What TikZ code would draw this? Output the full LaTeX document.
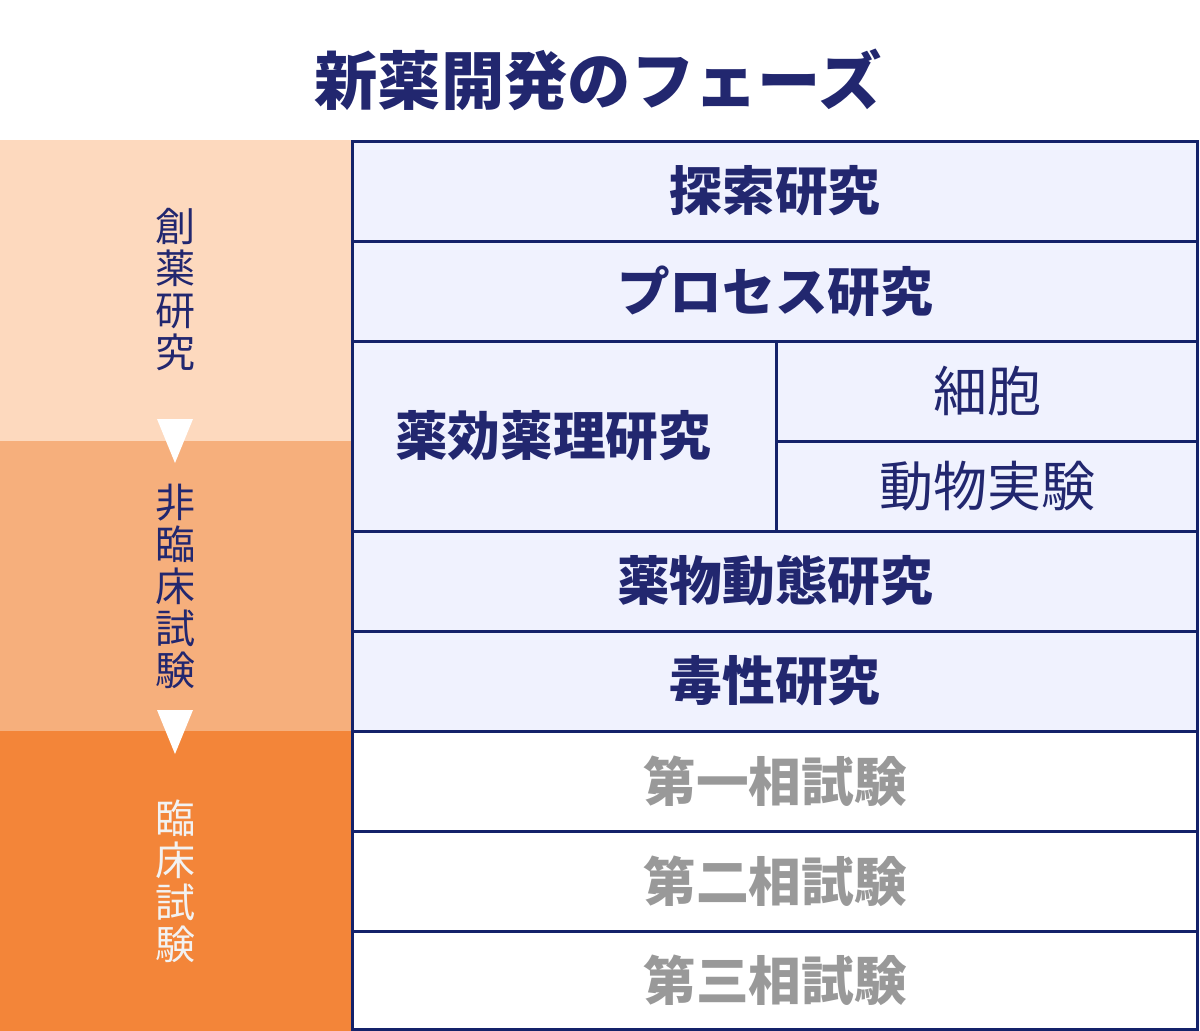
\documentclass[tikz,border=0pt]{standalone}
\usepackage{fontspec}
\setmainfont{Noto Sans CJK JP}
\usepackage{tikz}

\definecolor{navy}{HTML}{22276F}
\definecolor{gridline}{HTML}{14226A}
\definecolor{lavender}{HTML}{F0F2FE}
\definecolor{peach}{HTML}{FDD9BE}
\definecolor{apricot}{HTML}{F6AF7C}
\definecolor{deeporange}{HTML}{F38539}
\definecolor{phasegray}{HTML}{999999}
\definecolor{paleword}{HTML}{F2F2F2}

\begin{document}
\begin{tikzpicture}[x=0.75pt,y=-0.75pt,
  head/.style={font=\fontsize{39.5}{39.5}\selectfont\bfseries, text=navy, inner sep=0pt},
  sub/.style={font=\fontsize{40.5}{40.5}\selectfont, text=navy, inner sep=0pt},
  phase/.style={head, text=phasegray},
  band/.style={font=\fontsize{30}{31.5}\selectfont, align=center, inner sep=0pt},
  grid/.style={draw=gridline, line width=2.25pt}]
\useasboundingbox (0,0) rectangle (1200,1031);

% colour bands on the left
\fill[peach] (0,140) rectangle (351,441);
\fill[apricot] (0,441) rectangle (351,731);
\fill[deeporange] (0,731) rectangle (351,1031);
\fill[lavender] (352,141) rectangle (1197,731);

\fill[white] (157,419) -- (193,419) -- (175,463) -- cycle;
\fill[white] (157,710) -- (193,710) -- (175,754) -- cycle;

\node[head, font=\fontsize{47.5}{47.5}\selectfont\bfseries] (title) at (598,80) {新薬開発のフェーズ};

\node[band, text=navy] (discovery) at (175,290) {創\\薬\\研\\究};
\node[band, text=navy] (nonclinical) at (175,586) {非\\臨\\床\\試\\験};
\node[band, text=paleword] (clinical) at (175,881) {臨\\床\\試\\験};

% table
\draw[grid] (352,141) rectangle (1197,1029);
\foreach \y in {241,341,531,631,731,831,931}
  \draw[grid] (352,\y) -- (1197,\y);
\draw[grid] (776,341) -- (776,531);
\draw[grid] (776,441) -- (1197,441);

\node[head] (search) at (775,191) {探索研究};
\node[head] (process) at (775,291) {プロセス研究};
\node[head] (pharma) at (553,436) {薬効薬理研究};
\node[sub] (cell) at (987,391) {細胞};
\node[sub] (animal) at (987,486) {動物実験};
\node[head] (kinetics) at (775,581) {薬物動態研究};
\node[head] (toxic) at (775,681) {毒性研究};
\node[phase] (phase1) at (775,781) {第一相試験};
\node[phase] (phase2) at (775,881) {第二相試験};
\node[phase] (phase3) at (775,980) {第三相試験};
\end{tikzpicture}
\end{document}
